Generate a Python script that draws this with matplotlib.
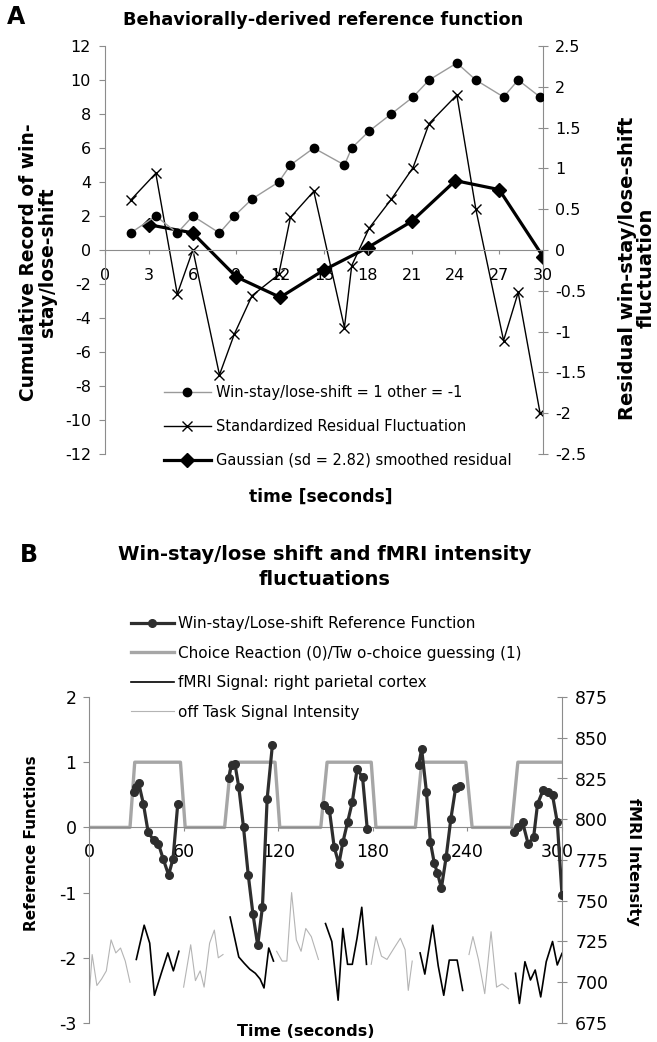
import numpy as np
import matplotlib
matplotlib.use('Agg')
from matplotlib import pyplot as plt
from matplotlib.lines import Line2D
from matplotlib.transforms import ScaledTranslation

plt.rcParams['font.family'] = ['DejaVu Sans']
plt.rcParams['axes.unicode_minus'] = False

# ---- panel A data ----
trial_t = [1.75, 3.48, 4.95, 6.02, 7.84, 8.86, 10.07, 11.9, 12.7, 14.3, 16.4,
           16.9, 18.1, 19.6, 21.1, 22.2, 24.1, 25.4, 27.3, 28.3, 29.8]
cumulative = [1, 2, 1, 2, 1, 2, 3, 4, 5, 6, 5, 6, 7, 8, 9, 10, 11, 10, 9, 10, 9]
residual = [0.61, 0.94, -0.54, 0.0, -1.53, -1.03, -0.56, -0.30, 0.40, 0.72, -0.95,
            -0.19, 0.27, 0.62, 1.01, 1.55, 1.90, 0.50, -1.11, -0.52, -2.0]
smooth_t = [3, 6, 9, 12, 15, 18, 21, 24, 27, 30]
smoothed = [0.31, 0.21, -0.33, -0.58, -0.245, 0.03, 0.35, 0.85, 0.74, -0.08]

a_xticks = list(range(0, 31, 3))
a_lticks = list(range(-12, 13, 2))
a_rticks = [-2.5, -2, -1.5, -1, -0.5, 0, 0.5, 1, 1.5, 2, 2.5]
a_rlabels = ['-2.5', '-2', '-1.5', '-1', '-0.5', '0', '0.5', '1', '1.5', '2', '2.5']

# ---- panel B data ----
task_t = [0, 26, 29, 58, 61, 86, 90, 118, 121, 147, 151, 179, 182, 207, 211, 239, 243, 268, 272, 300]
task_v = [0, 0, 1, 1, 0, 0, 1, 1, 0, 0, 1, 1, 0, 0, 1, 1, 0, 0, 1, 1]

ref_t = [
    [28.3, 30.0, 31.5, 34.5, 37.5, 41.0, 44.0, 47.0, 50.5, 53.3, 56.3],
    [88.5, 90.5, 92.5, 95.0, 98.0, 101.0, 104.0, 107.0, 110.0, 113.0, 116.3],
    [149.0, 152.5, 155.5, 158.5, 161.0, 164.0, 167.0, 170.0, 173.5, 176.5],
    [209.0, 211.0, 214.0, 216.5, 219.0, 221.0, 223.5, 226.5, 229.5, 232.5, 235.5],
    [269.5, 272.0, 275.0, 278.5, 282.0, 284.5, 288.0, 291.0, 294.0, 297.0, 300.0],
]
ref_v = [
    [0.55, 0.62, 0.68, 0.36, -0.07, -0.2, -0.25, -0.48, -0.73, -0.48, 0.36],
    [0.76, 0.96, 0.98, 0.62, 0.0, -0.73, -1.33, -1.81, -1.22, 0.44, 1.26],
    [0.35, 0.26, -0.3, -0.56, -0.23, 0.08, 0.39, 0.89, 0.77, -0.03],
    [0.95, 1.2, 0.55, -0.22, -0.55, -0.7, -0.93, -0.46, 0.13, 0.6, 0.64],
    [-0.07, 0.0, 0.08, -0.25, -0.15, 0.36, 0.57, 0.55, 0.49, 0.08, -1.03],
]

on_t = [
    [30, 35, 38.5, 41.5, 46, 50, 53.5, 57],
    [89.5, 95, 98.5, 102, 105.5, 108.5, 111, 114, 117],
    [150, 154, 158, 161, 164, 167, 170, 173, 176],
    [210, 213, 218, 221.5, 225, 228.5, 233.5, 237],
    [270.5, 273, 276.5, 280, 283, 286.5, 290, 294, 297, 300],
]
on_v = [
    [714, 735, 724, 692, 706, 718, 707, 719],
    [740, 715.5, 711.6, 708, 705.5, 702, 696.5, 721, 713],
    [736, 725, 689, 733, 711, 711, 727, 746, 711],
    [718, 705, 735, 710, 692, 713.6, 713.6, 695],
    [705.5, 687, 712.6, 701.4, 707.5, 691, 712.6, 725, 710.6, 717.7],
]
off_t = [
    [0, 2, 5, 8, 11, 14, 17, 20, 23, 26],
    [60, 64.5, 67.5, 70.5, 73, 76.5, 79.5, 82, 85],
    [119, 122.5, 125.5, 128.5, 131.5, 134.5, 137.5, 141, 145.5],
    [179, 182, 185.5, 189, 193.5, 197.5, 200.5, 202.5, 205],
    [241, 243.5, 247, 251, 255, 258.5, 262, 266],
]
off_v = [
    [690, 717, 698, 702, 707, 726, 718, 721, 713, 700],
    [697, 723, 701, 707, 697, 724, 732, 715, 717],
    [719, 713, 713, 755, 726, 719, 733, 728, 714],
    [711, 728, 716, 714, 721, 727, 720, 695, 713],
    [717, 728, 714, 693, 731, 697, 699, 696],
]

b_xticks = list(range(0, 301, 60))
b_lticks = [-3, -2, -1, 0, 1, 2]
b_rticks = list(range(675, 876, 25))


def joined(blocks):
    out = []
    for b in blocks:
        out += list(b) + [np.nan]
    return out[:-1]


W, H = 657, 1042
fig = plt.figure(figsize=(W / 100, H / 100), dpi=100)
AX_GRAY = '#8c8c8c'


def box(x0, y0, x1, y1):
    return [x0 / W, 1 - y1 / H, (x1 - x0) / W, (y1 - y0) / H]


def style_axes(ax, ax2, fs, lpad, rpad, xpad):
    for s in ['top', 'right']:
        ax.spines[s].set_visible(False)
    for s in ['top', 'bottom', 'left']:
        ax2.spines[s].set_visible(False)
    ax.spines['left'].set_color(AX_GRAY)
    ax2.spines['right'].set_color(AX_GRAY)
    ax.spines['bottom'].set_position(('data', 0))
    ax.spines['bottom'].set_color(AX_GRAY)
    ax.tick_params(axis='y', direction='out', length=4, color=AX_GRAY, labelsize=fs, pad=lpad)
    ax.tick_params(axis='x', direction='out', length=3, color=AX_GRAY, labelsize=fs, pad=xpad)
    ax2.tick_params(axis='y', direction='inout', length=7, color=AX_GRAY, labelsize=fs, pad=rpad)
    ax.set_zorder(ax2.get_zorder() + 1)
    ax.patch.set_visible(False)


# ---------------- panel A ----------------
axA = fig.add_axes(box(105, 46, 543, 454))
axA2 = axA.twinx()
style_axes(axA, axA2, 11.5, 6, 5, 10)

axA.plot(trial_t, cumulative, color='#9a9a9a', lw=1.0, marker='o', ms=6,
         mfc='black', mec='black', zorder=3)
axA2.plot(trial_t, residual, color='black', lw=1.0, marker='x', ms=7, mew=1.0)
axA2.plot(smooth_t, smoothed, color='black', lw=2.3, marker='D', ms=7.5)

axA.set_xlim(0, 30)
axA.set_ylim(-12, 12)
axA2.set_ylim(-2.5, 2.5)
axA.set_xticks(a_xticks)
axA.set_yticks(a_lticks)
axA2.set_yticks(a_rticks)
axA2.set_yticklabels(a_rlabels)

handlesA = [
    Line2D([], [], color='#9a9a9a', lw=1.0, marker='o', ms=6, mfc='black', mec='black'),
    Line2D([], [], color='black', lw=1.0, marker='x', ms=7, mew=1.0),
    Line2D([], [], color='black', lw=2.3, marker='D', ms=7.5),
]
labelsA = ['Win-stay/lose-shift = 1 other = -1',
           'Standardized Residual Fluctuation',
           'Gaussian (sd = 2.82) smoothed residual']
fig.legend(handlesA, labelsA, loc='upper left', bbox_to_anchor=(164 / W, 1 - 385 / H),
           frameon=False, fontsize=10.5, handlelength=3.2, handletextpad=0.35,
           labelspacing=1.3, borderpad=0, borderaxespad=0)

fig.text(16 / W, 1 - 17 / H, 'A', fontsize=17, fontweight='bold', ha='center', va='center')
fig.text(323 / W, 1 - 20 / H, 'Behaviorally-derived reference function',
         fontsize=12.8, fontweight='bold', ha='center', va='center')
fig.text(38 / W, 1 - 262 / H, 'Cumulative Record of win-\nstay/lose-shift', rotation=90,
         fontsize=13.4, fontweight='bold', ha='center', va='center', linespacing=1.05)
fig.text(637 / W, 1 - 268 / H, 'Residual win-stay/lose-shift\nfluctuation', rotation=90,
         fontsize=14, fontweight='bold', ha='center', va='center', linespacing=1.0)
fig.text(321 / W, 1 - 497 / H, 'time [seconds]', fontsize=12.3, fontweight='bold',
         ha='center', va='center')

# ---------------- panel B ----------------
axB = fig.add_axes(box(89, 697, 562, 1023))
axB2 = axB.twinx()
style_axes(axB, axB2, 12.5, 5, 6, 8)

axB2.plot(joined(off_t), joined(off_v), color='#b4b4b4', lw=0.8)
axB2.plot(joined(on_t), joined(on_v), color='black', lw=1.2)
axB.plot(task_t, task_v, color='#a6a6a6', lw=2.4, zorder=2)
axB.plot(joined(ref_t), joined(ref_v), color='#2e2e2e', lw=2.3,
         marker='o', ms=5.5, mfc='#2e2e2e', mec='#2e2e2e', zorder=4)

axB.set_xlim(0, 300)
axB.set_ylim(-3, 2)
axB2.set_ylim(675, 875)
axB.set_xticks(b_xticks)
axB.set_yticks(b_lticks)
axB2.set_yticks(b_rticks)

# nudge the last x label left so it does not run into the right-axis labels
last = axB.get_xticklabels()[-1]
last.set_transform(last.get_transform() + ScaledTranslation(-5 / 100, 0, fig.dpi_scale_trans))

handlesB = [
    Line2D([], [], color='#2e2e2e', lw=2.3, marker='o', ms=5.5),
    Line2D([], [], color='#a6a6a6', lw=2.4),
    Line2D([], [], color='black', lw=1.2),
    Line2D([], [], color='#b4b4b4', lw=0.8),
]
labelsB = ['Win-stay/Lose-shift Reference Function',
           'Choice Reaction (0)/Tw o-choice guessing (1)',
           'fMRI Signal: right parietal cortex',
           'off Task Signal Intensity']
fig.legend(handlesB, labelsB, loc='upper left', bbox_to_anchor=(131 / W, 1 - 616 / H),
           frameon=False, fontsize=11, handlelength=2.8, handletextpad=0.26,
           labelspacing=0.95, borderpad=0, borderaxespad=0)

fig.text(29 / W, 1 - 555 / H, 'B', fontsize=17, fontweight='bold', ha='center', va='center')
fig.text(325 / W, 1 - 567 / H, 'Win-stay/lose shift and fMRI intensity\nfluctuations',
         fontsize=14, fontweight='bold', ha='center', va='center', linespacing=1.4)
fig.text(32 / W, 1 - 843 / H, 'Reference Functions', rotation=90, fontsize=11,
         fontweight='bold', ha='center', va='center')
fig.text(633 / W, 1 - 862 / H, 'fMRI Intensity', rotation=270, fontsize=11.5,
         fontweight='bold', ha='center', va='center')
fig.text(306 / W, 1 - 1031 / H, 'Time (seconds)', fontsize=11.5, fontweight='bold',
         ha='center', va='center')

fig.savefig('out.png', dpi=100)
